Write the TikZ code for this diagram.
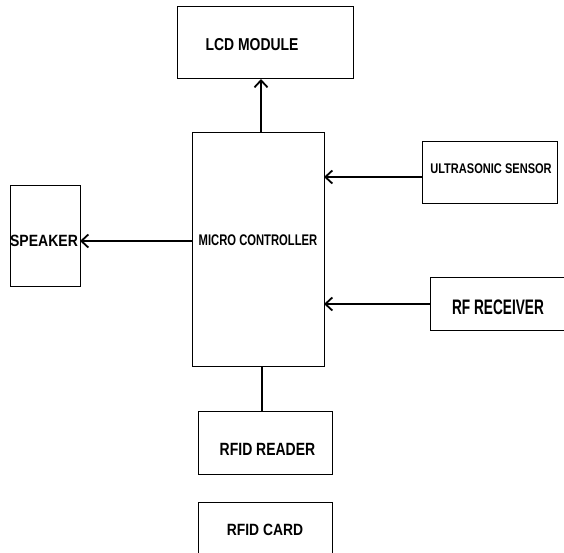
\documentclass[tikz,border=0pt]{standalone}
\usepackage{fontspec}
\setmainfont{Liberation Sans}
\usetikzlibrary{arrows.meta}
\newcommand\tx[3]{\scalebox{#2}[1]{\fontsize{#1}{#1}\selectfont\bfseries #3}}
\begin{document}
\begin{tikzpicture}[x=1pt,y=-1pt,
  blk/.style={draw=black,line width=1pt,rectangle,inner sep=0pt,outer sep=0pt,anchor=north west},
  lbl/.style={inner sep=0pt,outer sep=0pt,anchor=center},
  conn/.style={line width=2.4pt},
  arr/.style={conn,-{Straight Barb[length=7pt,width=13pt,line width=1.8pt]}}]
\useasboundingbox (0,0) rectangle (564,553);
\clip (0,0) rectangle (564,553);
\fill[white] (0,0) rectangle (564,553);
% blocks
\node[blk,minimum width=176pt,minimum height=72pt] (lcd) at (177,7) {};
\node[blk,minimum width=132pt,minimum height=233pt] (mc) at (192,133) {};
\node[blk,minimum width=70pt,minimum height=100pt] (sp) at (10,186) {};
\node[blk,minimum width=135pt,minimum height=62pt] (us) at (422,142) {};
\node[blk,minimum width=140pt,minimum height=53pt] (rf) at (430,277) {};
\node[blk,minimum width=134pt,minimum height=63pt] (rr) at (198,411) {};
\node[blk,minimum width=134pt,minimum height=70pt] (rc) at (198,502) {};
% labels
\node[lbl] (lcdt) at (252,45) {\tx{17.2}{0.81}{LCD MODULE}};
\node[lbl] (mct) at (258,240) {\tx{15.4}{0.73}{MICRO CONTROLLER}};
\node[lbl] (spt) at (44,241) {\tx{16.3}{0.86}{SPEAKER}};
\node[lbl] (ust) at (491,169) {\tx{14}{0.79}{ULTRASONIC SENSOR}};
\node[lbl] (rft) at (498,307) {\tx{21}{0.65}{RF RECEIVER}};
\node[lbl] (rrt) at (267.5,449) {\tx{17.7}{0.79}{RFID READER}};
\node[lbl] (rct) at (265,530) {\tx{16.3}{0.85}{RFID CARD}};
% connectors
\draw[arr] (mc.north -| 261,0) -- (lcd.south -| 261,0);
\draw[arr] (mc.west |- 0,241) -- (sp.east |- 0,241);
\draw[arr] (us.west |- 0,177) -- (mc.east |- 0,177);
\draw[arr] (rf.west |- 0,304) -- (mc.east |- 0,304);
\draw[conn] (mc.south -| 262,0) -- (rr.north -| 262,0);
\end{tikzpicture}
\end{document}
